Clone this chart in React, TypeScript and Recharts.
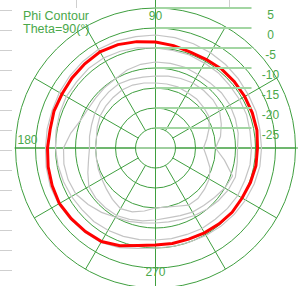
import { RadarChart, Radar, PolarGrid, PolarAngleAxis, PolarRadiusAxis } from "recharts";

// angle in degrees, values in dB
const angles = [
  0, 10, 20, 30, 40, 50, 60, 70, 80, 90, 100, 110, 120, 130, 140, 150, 160, 170,
  180, 190, 200, 210, 220, 230, 240, 250, 260, 270, 280, 290, 300, 310, 320, 330, 340, 350,
];

const phiMain = [
  -4.5, -4.25, -4.25, -4.25, -4.25, -4.25, -4.5, -4.5, -4, -3.5, -3, -2.5, -2.25, -2.5, -2.75, -3, -3, -3.25,
  -3, -2.75, -2.5, -2.25, -2.5, -2.75, -3, -4, -5.25, -5.75, -5.75, -5.75, -5.5, -5.25, -5, -5, -4.75, -4.5,
];

const ref1 = [
  -3.5, -3.5, -3.25, -3.25, -3, -2.75, -2.5, -2.25, -2, -1.75, -1.75, -1.5, -1.5, -1.75, -2, -2.25, -2.5, -2.5,
  -2.5, -2.25, -2, -2, -2.25, -2.5, -2.75, -3.5, -4.5, -5, -5, -5, -4.75, -4.5, -4.25, -4, -3.75, -3.5,
];

const ref2 = [
  -6, -6, -5.75, -5.75, -5.75, -5.5, -5.5, -5.25, -5.25, -5, -4.5, -4.25, -4, -4, -4.25, -4.25, -4.5, -4.75,
  -5, -5.25, -5.5, -5.75, -6, -6, -6.25, -6.5, -6.75, -7, -7, -7, -6.75, -6.75, -6.5, -6.25, -6.25, -6,
];

const ref3 = [
  -9.5, -9, -8.75, -8.5, -8.5, -8.75, -8.75, -8.5, -8.5, -8.5, -8.75, -9.25, -10, -10.25, -10.5, -10.5, -10, -8.5,
  -7, -6.75, -6.75, -7, -8, -9, -10, -10.5, -11, -11.25, -11.25, -11, -10.5, -10, -9.5, -9, -8.75, -9.25,
];

const ref4 = [
  -18, -17, -15.75, -14.5, -14.25, -14, -14, -13.75, -13.75, -13.75, -13.5, -13.25, -13.25, -13.5, -13.75, -14, -14.5, -15,
  -15, -15, -14.75, -14.5, -14, -13.25, -12.5, -13, -14, -15, -15, -14.5, -13.5, -13.5, -14, -14.5, -15.5, -17,
];

const ref5 = [
  -15, -13.5, -12.5, -11.5, -11.25, -11.25, -11.25, -11.5, -11.75, -12, -12, -11.75, -11.5, -11.75, -12, -12.5, -13, -13.25,
  -13.5, -13, -12, -10.75, -10.5, -10.5, -10.5, -11, -11.5, -12, -12.25, -12, -11.5, -11.25, -10.75, -10, -9.5, -12.5,
];

const angleTicks = [0, 30, 60, 90, 120, 150, 180, 210, 240, 270, 300, 330];
const angleLabels: Record<number, string> = { 90: "90", 180: "180", 270: "270" };
const radiusTicks = [-25, -20, -15, -10, -5, 0, 5];

const data = angles.map((angle, i) => ({
  angle,
  main: phiMain[i],
  r1: ref1[i],
  r2: ref2[i],
  r3: ref3[i],
  r4: ref4[i],
  r5: ref5[i],
}));

const CX = 155.5;
const CY = 148;
const R = 140;
const GREEN = "#3f9f3f";
const TEXT = "#4aa84a";
const FONT = "Arial, 'Liberation Sans', sans-serif";

function RadiusTick(props: any) {
  const { x, y, payload } = props;
  return (
    <g>
      <line x1={x} y1={y} x2={x + 96} y2={y} stroke="#a3d6a3" strokeWidth={2} />
      <text x={x + 115} y={y + 11} textAnchor="middle" fontSize={12} fill={TEXT} fontFamily={FONT}>
        {payload.value}
      </text>
    </g>
  );
}

function AngleTick(props: any) {
  const { x, y, payload } = props;
  const label = angleLabels[payload.value];
  if (!label) return <g />;
  return (
    <text x={x} y={payload.value === 180 ? y - 4 : y} textAnchor="middle" fontSize={12} fill={TEXT} fontFamily={FONT}>
      {label}
    </text>
  );
}

const grays = ["r1", "r2", "r3", "r4", "r5"];

export default function App() {
  const edgeTicks = Array.from({ length: 14 }, (_, k) => 10.5 + k * 20);
  return (
    <div style={{ position: "absolute", left: 0, top: 0, width: 298, height: 286, background: "#fff", overflow: "hidden" }}>
      <svg width={298} height={286} style={{ position: "absolute", left: 0, top: 0 }}>
        {edgeTicks.map((y) => (
          <line key={y} x1={0} y1={y} x2={12} y2={y} stroke="#cfcfcf" />
        ))}
        <line x1={76.5} y1={0} x2={76.5} y2={8} stroke="#cfcfcf" />
        <line x1={229.5} y1={0} x2={229.5} y2={8} stroke="#cfcfcf" />
        <line x1={CX} y1={0} x2={CX} y2={286} stroke={GREEN} />
        <line x1={CX - R - 1} y1={CY} x2={298} y2={CY} stroke={GREEN} />
        <text x={23} y={20} fontSize={12.5} fill={TEXT} fontFamily={FONT}>Phi Contour</text>
        <text x={23} y={33} fontSize={12.5} fill={TEXT} fontFamily={FONT}>Theta=90(°)</text>
      </svg>
      <div style={{ position: "absolute", left: 0, top: 0 }}>
        <RadarChart
          width={298}
          height={286}
          data={data}
          cx={CX}
          cy={CY}
          innerRadius={20}
          outerRadius={R}
          startAngle={0}
          endAngle={360}
          margin={{ top: 0, right: 0, bottom: 0, left: 0 }}
        >
          <PolarGrid gridType="circle" stroke={GREEN} strokeOpacity={1} />
          <PolarAngleAxis
            dataKey="angle"
            type="number"
            domain={[0, 360]}
            ticks={angleTicks}
            orientation="inner"
            tickSize={12}
            tickLine={false}
            axisLine={false}
            tick={<AngleTick />}
          />
          <PolarRadiusAxis
            angle={90}
            type="number"
            domain={[-25, 5]}
            ticks={radiusTicks}
            axisLine={false}
            tickLine={false}
            tick={<RadiusTick />}
          />
          {grays.map((k) => (
            <Radar
              key={k}
              dataKey={k}
              stroke="#c4c4c4"
              strokeWidth={1.2}
              fill="none"
              fillOpacity={0}
              dot={false}
              isAnimationActive={false}
            />
          ))}
          <Radar
            dataKey="main"
            stroke="#ff0000"
            strokeWidth={3}
            fill="none"
            fillOpacity={0}
            dot={false}
            isAnimationActive={false}
          />
        </RadarChart>
      </div>
    </div>
  );
}
